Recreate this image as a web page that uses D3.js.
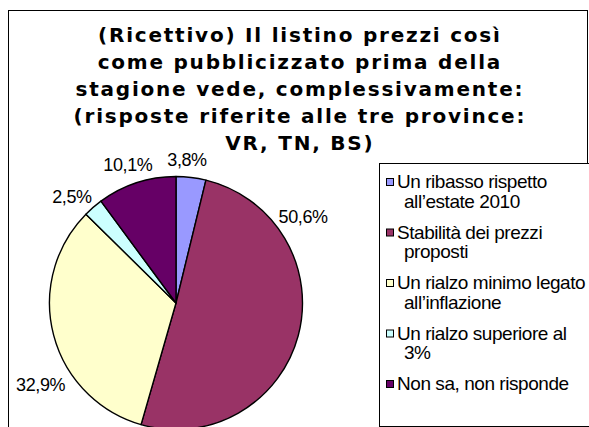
<!DOCTYPE html>
<html><head><meta charset="utf-8">
<script src="https://cdn.jsdelivr.net/npm/d3@7"></script>
<style>body{margin:0;background:#fff}svg{display:block}</style>
</head><body><svg id="c" width="589" height="427"></svg>
<script>
const titleLines = [
  "(Ricettivo) Il listino prezzi così",
  "come pubblicizzato prima della",
  "stagione vede, complessivamente:",
  "(risposte riferite alle tre province:",
  "VR, TN, BS)"
];
const categories = [
  ["Un ribasso rispetto", "all’estate 2010"],
  ["Stabilità dei prezzi", "proposti"],
  ["Un rialzo minimo legato", "all’inflazione"],
  ["Un rialzo superiore al", "3%"],
  ["Non sa, non risponde"]
];
const values = [3.8, 50.6, 32.9, 2.5, 10.1];
const valueLabels = ["3,8%", "50,6%", "32,9%", "2,5%", "10,1%"];
const colors = ["#9999FF", "#993366", "#FFFFCC", "#CCFFFF", "#660066"];

const svg = d3.select("#c");

// chart area border
svg.append("rect").attr("x", 8.5).attr("y", 10.5).attr("width", 579).attr("height", 440)
  .attr("fill", "#fff").attr("stroke", "#000").attr("stroke-width", 1);

// title
const title = svg.append("g").attr("font-family", "'DejaVu Sans', Verdana, sans-serif")
  .attr("font-weight", "bold").attr("font-size", 20).attr("fill", "#000");
const tl = title.selectAll("text").data(titleLines).join("text")
  .attr("x", 299).attr("y", (d, i) => 42 + i * 27)
  .attr("text-anchor", "middle").text(d => d);
// fit letter spacing so the widest line matches the reference width
const ref = tl.filter((d, i) => i === 2).node();
const natural = ref.getComputedTextLength();
const ls = (447 - natural) / (titleLines[2].length - 1);
tl.attr("letter-spacing", ls).attr("x", 299 + ls / 2);

// pie
const cx = 176, cy = 303, r = 126.5;
const pie = d3.pie().sort(null).value(d => d);
const arcs = pie(values);
const arc = d3.arc().innerRadius(0).outerRadius(r);
const g = svg.append("g").attr("transform", `translate(${cx},${cy})`);
g.selectAll("path").data(arcs).join("path")
  .attr("d", arc).attr("fill", (d, i) => colors[i])
  .attr("stroke", "#000").attr("stroke-width", 1.4).attr("stroke-linejoin", "round");

// data labels (placement within each slice: fraction of the slice's sweep, distance)
const labelPlace = [[0.32, 144], [0.23, 154], [0.362, 158], [0.123, 149], [0.475, 147]];
g.selectAll("text.lbl").data(arcs).join("text").attr("class", "lbl")
  .attr("font-family", "'Liberation Sans', Arial, sans-serif").attr("font-size", 18)
  .attr("letter-spacing", -0.4)
  .attr("text-anchor", "middle").attr("dy", "0.36em")
  .attr("x", (d, i) => {
    const a = d.startAngle + labelPlace[i][0] * (d.endAngle - d.startAngle);
    return labelPlace[i][1] * Math.sin(a);
  })
  .attr("y", (d, i) => {
    const a = d.startAngle + labelPlace[i][0] * (d.endAngle - d.startAngle);
    return -labelPlace[i][1] * Math.cos(a);
  })
  .text((d, i) => valueLabels[i]);

// legend
svg.append("rect").attr("x", 379.5).attr("y", 163.5).attr("width", 230).attr("height", 263)
  .attr("fill", "#fff").attr("stroke", "#000").attr("stroke-width", 1);
const lg = svg.append("g").attr("font-family", "'Liberation Sans', Arial, sans-serif")
  .attr("font-size", 19).attr("fill", "#000");
const items = lg.selectAll("g").data(categories).join("g")
  .attr("transform", (d, i) => `translate(0,${188 + i * 50.5})`);
items.append("rect").attr("x", 386.5).attr("y", -9.5).attr("width", 7).attr("height", 7)
  .attr("fill", (d, i) => colors[i]).attr("stroke", "#000").attr("stroke-width", 1);
items.each(function(d) {
  const it = d3.select(this);
  d.forEach((line, j) => {
    it.append("text").attr("x", j === 0 ? 397 : 404).attr("y", j * 19.5)
      .attr("letter-spacing", -0.45).text(line);
  });
});
</script></body></html>
